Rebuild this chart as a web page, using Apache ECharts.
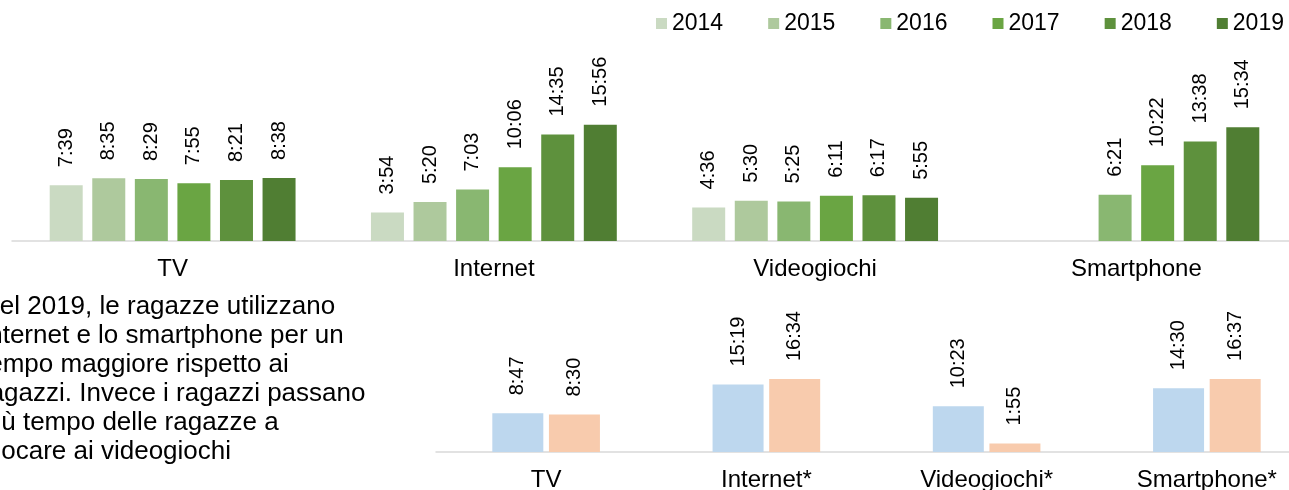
<!DOCTYPE html>
<html>
<head>
<meta charset="utf-8">
<script src="https://cdn.jsdelivr.net/npm/echarts@6/dist/echarts.min.js"></script>
<style>
  html, body { margin: 0; padding: 0; background: #fff; }
  #chart { width: 1289px; height: 490px; }
</style>
</head>
<body>
<div id="chart"></div>
<script>
// data, times are h:mm per day
const years = ['2014', '2015', '2016', '2017', '2018', '2019'];
const mediaCategories = ['TV', 'Internet', 'Videogiochi', 'Smartphone'];
const time2014 = ['7:39', '3:54', '4:36', null];
const time2015 = ['8:35', '5:20', '5:30', null];
const time2016 = ['8:29', '7:03', '5:25', '6:21'];
const time2017 = ['7:55', '10:06', '6:11', '10:22'];
const time2018 = ['8:21', '14:35', '6:17', '13:38'];
const time2019 = ['8:38', '15:56', '5:55', '15:34'];

const genderCategories = ['TV', 'Internet*', 'Videogiochi*', 'Smartphone*'];
const timeRagazzi = ['8:47', '15:19', '10:23', '14:30'];
const timeRagazze = ['8:30', '16:34', '1:55', '16:37'];

const noteLines = [
  'Nel 2019, le ragazze utilizzano',
  'Internet e lo smartphone per un',
  'tempo maggiore rispetto ai',
  'ragazzi. Invece i ragazzi passano',
  'più tempo delle ragazze a',
  'giocare ai videogiochi'
];

const yearColors = ['#cadac2', '#aec99d', '#89b771', '#6aa543', '#5e913d', '#507e33'];
const FONT = '"Liberation Sans", Arial, sans-serif';

function toHours(s) {
  if (s === null) return '-';
  const parts = s.split(':');
  return { value: Number(parts[0]) + Number(parts[1]) / 60, time: s };
}

const rotatedLabel = {
  show: true,
  position: 'top',
  rotate: 90,
  align: 'left',
  verticalAlign: 'middle',
  distance: 18,
  fontSize: 20,
  fontFamily: FONT,
  color: '#000',
  formatter: (p) => p.data.time
};

const catLabel = { fontSize: 24, color: '#000', margin: 16, fontFamily: FONT };

const yearSeries = [time2014, time2015, time2016, time2017, time2018, time2019];

const chart = echarts.init(document.getElementById('chart'));

const option = {
  animation: false,
  textStyle: { fontFamily: FONT },
  legend: {
    data: years,
    left: 651,
    top: 7,
    icon: 'rect',
    itemWidth: 11,
    itemHeight: 11,
    itemGap: 45,
    textStyle: { fontSize: 23, color: '#000', fontFamily: FONT }
  },
  graphic: [
    {
      type: 'text',
      x: -19,
      y: 292,
      style: {
        text: noteLines.join('\n'),
        font: '26px ' + FONT,
        lineHeight: 29,
        fill: '#000'
      }
    }
  ],
  // both plots run past the right edge of the picture, so no clamping
  grid: [
    { left: 12, width: 1285, top: 95, height: 146, outerBoundsMode: 'none' },
    { left: 436, width: 881, top: 364, height: 88, outerBoundsMode: 'none' }
  ],
  xAxis: [
    {
      gridIndex: 0,
      type: 'category',
      data: mediaCategories,
      axisLine: { lineStyle: { color: '#d9d9d9', width: 1.5 } },
      axisTick: { show: false },
      axisLabel: catLabel
    },
    {
      gridIndex: 1,
      type: 'category',
      data: genderCategories,
      axisLine: { lineStyle: { color: '#d9d9d9', width: 1.5 } },
      axisTick: { show: false },
      axisLabel: catLabel
    }
  ],
  yAxis: [
    { gridIndex: 0, type: 'value', min: 0, max: 20, show: false, splitLine: { show: false } },
    { gridIndex: 1, type: 'value', min: 0, max: 20, show: false, splitLine: { show: false } }
  ],
  series: [
    ...yearSeries.map((arr, i) => ({
      name: years[i],
      type: 'bar',
      xAxisIndex: 0,
      yAxisIndex: 0,
      barWidth: 33,
      barGap: '29%',
      itemStyle: { color: yearColors[i] },
      label: rotatedLabel,
      data: arr.map(toHours)
    })),
    {
      name: 'Ragazzi',
      type: 'bar',
      xAxisIndex: 1,
      yAxisIndex: 1,
      barWidth: 51,
      barGap: '11%',
      itemStyle: { color: '#bdd7ee' },
      label: rotatedLabel,
      data: timeRagazzi.map(toHours)
    },
    {
      name: 'Ragazze',
      type: 'bar',
      xAxisIndex: 1,
      yAxisIndex: 1,
      barWidth: 51,
      barGap: '11%',
      itemStyle: { color: '#f8cbad' },
      label: rotatedLabel,
      data: timeRagazze.map(toHours)
    }
  ]
};

chart.setOption(option);
</script>
</body>
</html>
